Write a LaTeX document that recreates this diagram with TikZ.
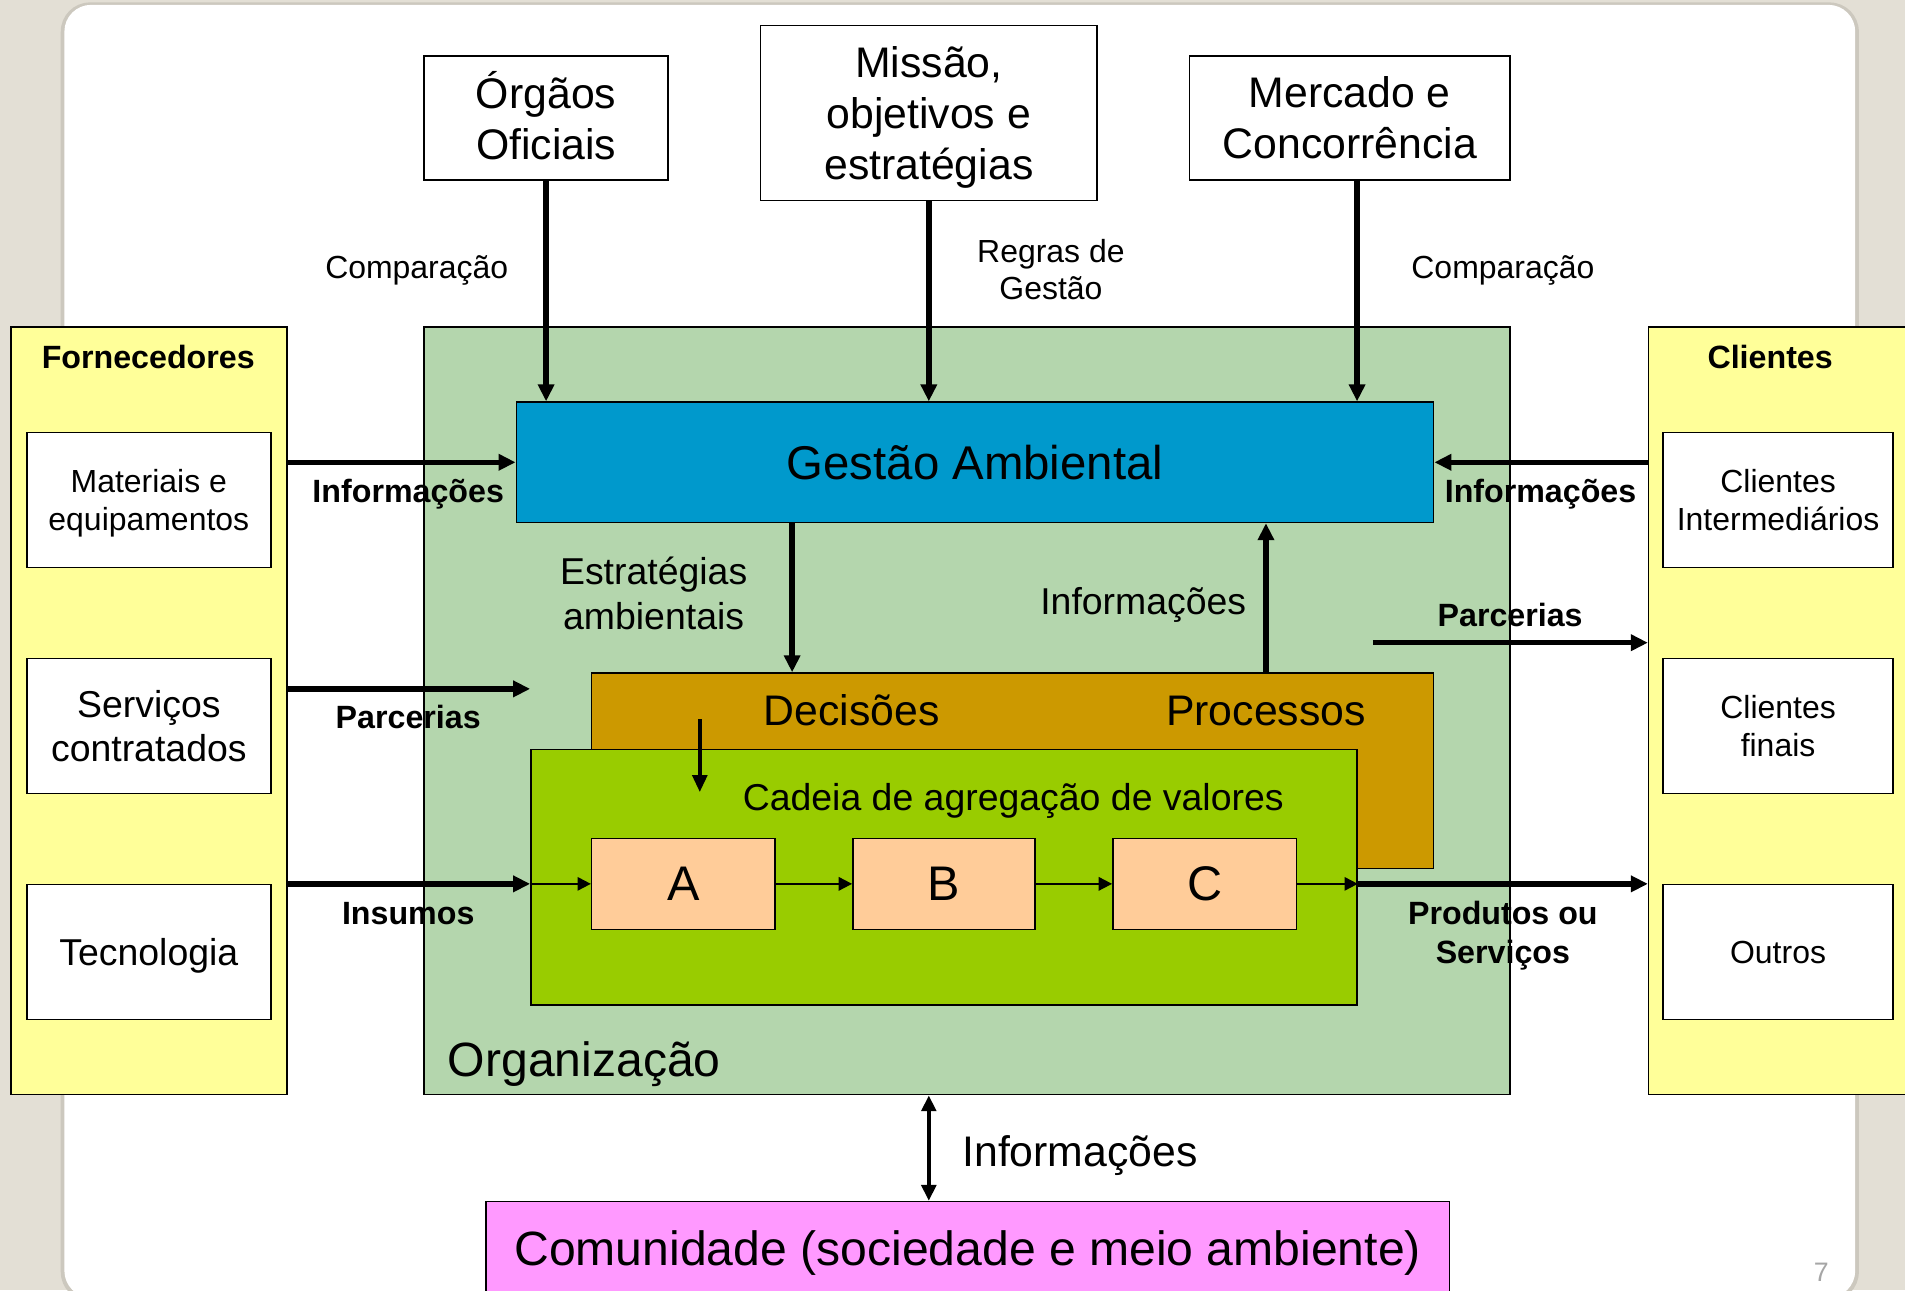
\documentclass[tikz,border=0pt]{standalone}
\usepackage{fontspec}
\setmainfont{Liberation Sans}
\usetikzlibrary{arrows.meta}
\definecolor{bgbeige}{HTML}{E3DFD5}
\definecolor{shadowc}{HTML}{CCC8BE}
\definecolor{yel}{HTML}{FFFF99}
\definecolor{orggreen}{HTML}{B4D6AD}
\definecolor{blueg}{HTML}{0099CC}
\definecolor{orangep}{HTML}{CC9900}
\definecolor{chaing}{HTML}{99CC00}
\definecolor{peach}{HTML}{FFCC99}
\definecolor{pinkc}{HTML}{FF99FF}
\definecolor{pgnum}{HTML}{A6A6A6}
\begin{document}
\begin{tikzpicture}[x=1pt,y=-1pt,
  f22/.style={font=\fontsize{22}{26}\selectfont},
  f25/.style={font=\fontsize{26.3}{31}\selectfont},
  f30/.style={font=\fontsize{30.8}{36.5}\selectfont},
  f34/.style={font=\fontsize{35.2}{42}\selectfont},
  f37/.style={font=\fontsize{39}{46}\selectfont},
  f39/.style={font=\fontsize{39.6}{47}\selectfont},
  f40/.style={font=\fontsize{40}{48}\selectfont},
  b26/.style={font=\fontsize{26.5}{32}\selectfont\bfseries},
  box/.style={draw=black, line width=1.3pt, fill=white, inner sep=0pt, align=center, text depth=0pt},
  lbl/.style={inner sep=0pt, anchor=base},
  mlbl/.style={inner sep=0pt, align=center},
  thk/.style={line width=4.5pt, -{Triangle[length=14pt,width=13pt]}},
  med/.style={line width=3.2pt, -{Triangle[length=14pt,width=12pt]}},
  thn/.style={line width=1.6pt, -{Triangle[length=11pt,width=11pt]}},
  bidir/.style={line width=3.2pt, {Triangle[length=13pt,width=12pt]}-{Triangle[length=13pt,width=12pt]}}
]
\path[use as bounding box] (0,0) rectangle (1568,1062);
\clip (0,0) rectangle (1568,1062);
\fill[bgbeige] (0,0) rectangle (1568,1062);
\fill[shadowc, rounded corners=24pt] (50,2) rectangle (1530,1071);
\fill[white, rounded corners=22pt] (53,4) rectangle (1527,1068);

% top boxes
\node[box, f34, text depth=4pt, minimum width=201pt, minimum height=102pt] (orgaos) at (449.5,97) {Órgãos\\Oficiais};
\node[box, f34, minimum width=277pt, minimum height=144pt] (missao) at (764.5,93) {Missão,\\objetivos e\\estratégias};
\node[box, f34, minimum width=264pt, minimum height=102pt] (mercado) at (1111,97) {Mercado e\\Concorrência};

% side and organisation boxes
\node[box, fill=yel, minimum width=227pt, minimum height=632pt] (forn) at (122.5,585) {};
\node[box, fill=yel, minimum width=240pt, minimum height=632pt] (cli) at (1477,585) {};
\node[box, fill=orggreen, minimum width=894pt, minimum height=632pt] (org) at (796,585) {};
\node[lbl, b26] (fornt) at (122,303) {Fornecedores};
\node[lbl, b26] (clit) at (1457,303) {Clientes};

\node[box, f25, minimum width=201pt, minimum height=111pt] (mat) at (122.5,411.5) {Materiais e\\equipamentos};
\node[box, f30, minimum width=201pt, minimum height=111pt] (serv) at (122.5,597.5) {Serviços\\contratados};
\node[box, f30, minimum width=201pt, minimum height=111pt] (tec) at (122.5,783.5) {Tecnologia};
\node[box, f25, minimum width=189pt, minimum height=111pt] (cint) at (1463.5,411.5) {Clientes\\Intermediários};
\node[box, f25, minimum width=189pt, minimum height=111pt] (cfin) at (1463.5,597.5) {Clientes\\finais};
\node[box, f25, minimum width=189pt, minimum height=111pt] (outros) at (1463.5,783.5) {Outros};

\node[box, f37, fill=blueg, minimum width=755pt, minimum height=99pt] (gestao) at (802.5,380.5) {Gestão Ambiental};
\node[box, fill=orangep, minimum width=693pt, minimum height=161pt] (proc) at (833.5,634.5) {};
\node[lbl, f34] (dec) at (701,597.5) {Decisões};
\node[lbl, f34] (pro) at (1042,597.5) {Processos};
\node[box, fill=chaing, minimum width=680pt, minimum height=210pt] (cadeia) at (777,722) {};
\node[lbl, f30] (cadt) at (834,667) {Cadeia de agregação de valores};
\node[box, f40, fill=peach, minimum width=151pt, minimum height=75pt] (A) at (562.5,727.5) {A};
\node[box, f40, fill=peach, minimum width=150pt, minimum height=75pt] (B) at (777,727.5) {B};
\node[box, f40, fill=peach, minimum width=151pt, minimum height=75pt] (C) at (991.5,727.5) {C};
\node[lbl, f39] (orgt) at (481,886) {Organização};

\node[box, f39, fill=pinkc, minimum width=793pt, minimum height=76pt] (comun) at (796.5,1027) {Comunidade (sociedade e meio ambiente)};

% labels
\node[lbl, f25] (cmp1) at (343,229) {Comparação};
\node[lbl, f25] (cmp2) at (1237,229) {Comparação};
\node[mlbl, f25] (regras) at (865,222) {Regras de\\Gestão};
\node[lbl, b26] (inf1) at (336,414) {Informações};
\node[lbl, b26] (inf2) at (1268,414) {Informações};
\node[lbl, b26] (par1) at (336,600) {Parcerias};
\node[lbl, b26] (par2) at (1243,516) {Parcerias};
\node[lbl, b26] (ins) at (336,761) {Insumos};
\node[mlbl, b26] (prod) at (1237,770) {Produtos ou\\Serviços};
\node[mlbl, f30] (estr) at (538,488.5) {Estratégias\\ambientais};
\node[lbl, f30] (inf3) at (941,505.5) {Informações};
\node[lbl, f34] (inf4) at (889,960) {Informações};
\node[lbl, f22, text=pgnum] (pg) at (1499,1055) {7};

% connectors
\coordinate (mx) at (1117,0);
\coordinate (gx) at (652,0);
\coordinate (px) at (1042,0);
\coordinate (lp) at (0,567);
\coordinate (rp) at (1130,529);
\coordinate (d1) at (576,592);
\coordinate (d2) at (576,652);
\draw[thk] (orgaos.south) -- (orgaos.south |- gestao.north);
\draw[thk] (missao.south) -- (missao.south |- gestao.north);
\draw[thk] (mercado.south -| mx) -- (gestao.north -| mx);
\draw[thk] (forn.east |- gestao.west) -- (gestao.west);
\draw[thk] (cli.west |- gestao.east) -- (gestao.east);
\draw[thk] (gestao.south -| gx) -- (proc.north -| gx);
\draw[thk] (proc.north -| px) -- (gestao.south -| px);
\draw[thk] (forn.east |- lp) -- (cadeia.west |- lp);
\draw[thk] (forn.east |- A.west) -- (cadeia.west |- A.west);
\draw[thn] (cadeia.west |- A.west) -- (A.west);
\draw[thn] (A.east) -- (B.west);
\draw[thn] (B.east) -- (C.west);
\draw[thn] (C.east) -- (C.east -| cadeia.east);
\draw[thk] (C.east -| cadeia.east) -- (C.east -| cli.west);
\draw[thk] (rp) -- (rp -| cli.west);
\draw[med] (d1) -- (d2);
\draw[bidir] (org.south -| missao.south) -- (comun.north -| missao.south);
\end{tikzpicture}
\end{document}
